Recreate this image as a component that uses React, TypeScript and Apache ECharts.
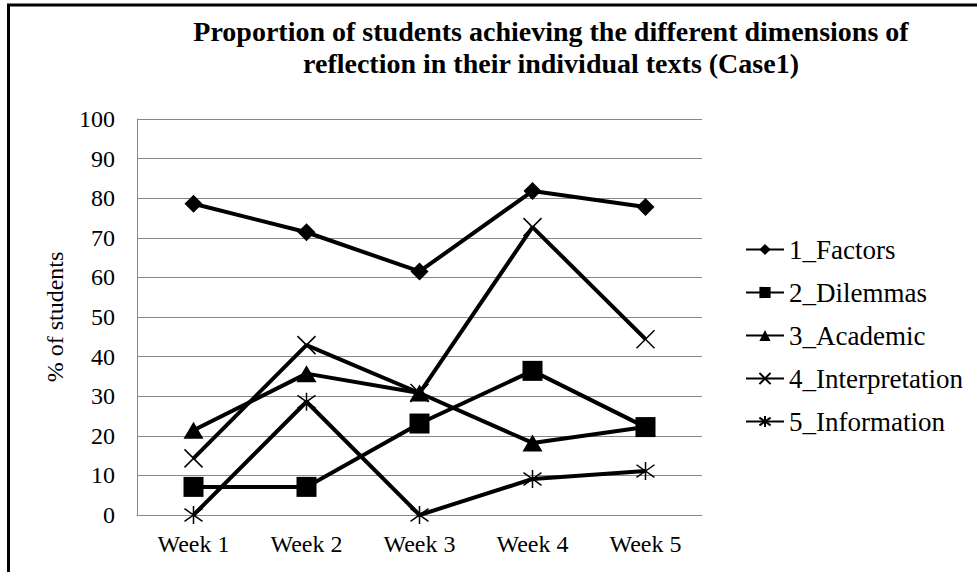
import React, { useEffect, useRef } from "react";
import * as echarts from "echarts";

const categories = ["Week 1", "Week 2", "Week 3", "Week 4", "Week 5"];
const factors = [78.6, 71.4, 61.5, 81.8, 77.8];
const dilemmas = [7.1, 7.1, 23.1, 36.4, 22.2];
const academic = [21.4, 35.7, 30.8, 18.2, 22.2];
const interpretation = [14.3, 42.9, 30.8, 72.7, 44.4];
const information = [0, 28.6, 0, 9.1, 11.1];
const seriesNames = ["1_Factors", "2_Dilemmas", "3_Academic", "4_Interpretation", "5_Information"];
const titleText = "Proportion of students achieving the different dimensions of\nreflection in their individual texts (Case1)";
const yAxisName = "% of students";

const FONT = "'Liberation Serif', 'DejaVu Serif', serif";
const X_PATH = "path://M0,0L10,10M10,0L0,10";
const STAR_PATH = "path://M5,0L5,10M0,1.5L10,8.5M10,1.5L0,8.5";

export default function App() {
  const ref = useRef<HTMLDivElement>(null);
  useEffect(() => {
    document.body.style.margin = "0";
    if (!ref.current) return;
    const chart = echarts.init(ref.current, null, { renderer: "svg" });
    const mk = (name: string, data: number[], symbol: string, size: number | number[], stroke = false) => ({
      name,
      type: "line",
      data,
      symbol,
      symbolSize: size,
      lineStyle: { color: "#000", width: 4 },
      itemStyle: stroke
        ? { color: "#000", borderColor: "#000", borderWidth: 1.5 }
        : { color: "#000" },
      z: 3,
    });
    chart.setOption({
      animation: false,
      backgroundColor: "#fff",
      title: {
        text: titleText,
        left: 546,
        top: 10,
        textAlign: "center",
        textStyle: { fontFamily: FONT, fontWeight: "bold", fontSize: 28, lineHeight: 32, color: "#000" },
      },
      graphic: [
        { type: "line", shape: { x1: 8.5, y1: 4, x2: 8.5, y2: 572 }, style: { stroke: "#000", lineWidth: 3 } },
        { type: "line", shape: { x1: 7, y1: 5, x2: 977, y2: 5 }, style: { stroke: "#000", lineWidth: 3 } },
      ],
      legend: {
        orient: "vertical",
        left: 740,
        top: 230,
        itemWidth: 38,
        itemHeight: 14,
        itemGap: 14,
        textStyle: { fontFamily: FONT, fontSize: 27, color: "#000", lineHeight: 29 },
        data: seriesNames,
      },
      grid: { left: 137, right: 275, top: 119, bottom: 57 },
      xAxis: {
        type: "category",
        data: categories,
        boundaryGap: true,
        axisLine: { lineStyle: { color: "#888", width: 1 } },
        axisTick: { show: false },
        axisLabel: { fontFamily: FONT, fontSize: 24, color: "#000", margin: 17 },
      },
      yAxis: {
        type: "value",
        min: 0,
        max: 100,
        interval: 10,
        name: yAxisName,
        nameLocation: "middle",
        nameGap: 70,
        nameTextStyle: { fontFamily: FONT, fontSize: 24, color: "#000" },
        axisLine: { show: true, lineStyle: { color: "#888", width: 1 } },
        axisTick: { show: false },
        splitLine: { lineStyle: { color: "#888", width: 1 } },
        axisLabel: { fontFamily: FONT, fontSize: 24, color: "#000", margin: 22 },
      },
      series: [
        mk(seriesNames[0], factors, "diamond", 18),
        mk(seriesNames[1], dilemmas, "rect", 20),
        mk(seriesNames[2], academic, "triangle", [20, 17]),
        mk(seriesNames[3], interpretation, X_PATH, 18, true),
        mk(seriesNames[4], information, STAR_PATH, 18, true),
      ],
    });
    return () => chart.dispose();
  }, []);
  return <div ref={ref} style={{ width: 977, height: 572 }} />;
}
